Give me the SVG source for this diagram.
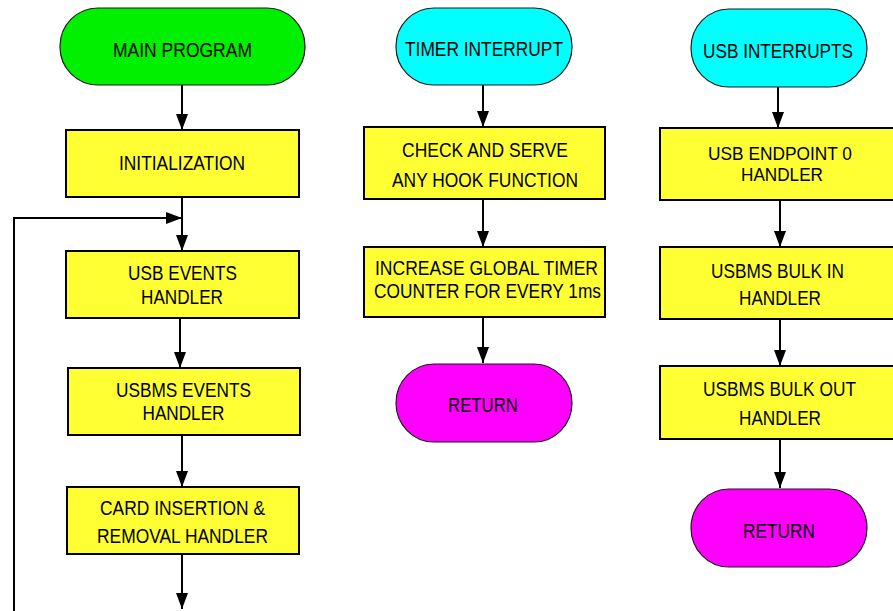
<svg xmlns="http://www.w3.org/2000/svg" width="893" height="611" viewBox="0 0 893 611">
  <style>
    .term { stroke: #1a1a1a; stroke-width: 1.2; }
    .main { fill: #00f000; }
    .irq { fill: #00ffff; }
    .ret { fill: #ff00ff; }
    .box { fill: #ffff33; stroke: #000; stroke-width: 2; }
    text { font-family: "Liberation Sans", Arial, sans-serif; font-size: 20px; fill: #000; text-anchor: middle; }
    .tight { font-size: 18.5px; }
    .conn { fill: none; stroke: #000; stroke-width: 2; marker-end: url(#arrow); }
  </style>
  <defs>
    <marker id="arrow" markerUnits="userSpaceOnUse" markerWidth="17" markerHeight="13" refX="16" refY="6" orient="auto">
      <path d="M0,0 L16,6 L0,12 z" fill="#000"/>
    </marker>
  </defs>
  <rect width="893" height="611" fill="#fff"/>

  <!-- main program column -->
  <g id="main-program">
    <rect class="term main" x="60" y="8" width="245" height="77" rx="38" ry="38"/>
    <text x="182.5" y="57" textLength="139" lengthAdjust="spacingAndGlyphs">MAIN PROGRAM</text>
  </g>
  <g id="initialization">
    <rect class="box" x="66" y="130" width="233" height="67"/>
    <text x="182" y="170" textLength="126" lengthAdjust="spacingAndGlyphs">INITIALIZATION</text>
  </g>
  <g id="usb-events">
    <rect class="box" x="66" y="251" width="233" height="67"/>
    <text x="182.5" y="280" textLength="109" lengthAdjust="spacingAndGlyphs">USB EVENTS</text>
    <text x="182" y="304" textLength="82" lengthAdjust="spacingAndGlyphs">HANDLER</text>
  </g>
  <g id="usbms-events">
    <rect class="box" x="68" y="368" width="232" height="67"/>
    <text x="183.5" y="397" textLength="135" lengthAdjust="spacingAndGlyphs">USBMS EVENTS</text>
    <text x="183.5" y="420" textLength="82" lengthAdjust="spacingAndGlyphs">HANDLER</text>
  </g>
  <g id="card-handler">
    <rect class="box" x="67" y="487" width="232" height="67"/>
    <text x="182.5" y="515" textLength="165" lengthAdjust="spacingAndGlyphs">CARD INSERTION &amp;</text>
    <text x="182.5" y="543" textLength="171" lengthAdjust="spacingAndGlyphs">REMOVAL HANDLER</text>
  </g>

  <!-- timer interrupt column -->
  <g id="timer-interrupt">
    <rect class="term irq" x="396" y="8" width="176" height="77" rx="38" ry="38"/>
    <text x="484" y="56" textLength="158" lengthAdjust="spacingAndGlyphs">TIMER INTERRUPT</text>
  </g>
  <g id="hook-function">
    <rect class="box" x="364" y="127" width="241" height="72"/>
    <text x="485" y="157" textLength="166" lengthAdjust="spacingAndGlyphs">CHECK AND SERVE</text>
    <text x="485" y="187" textLength="186" lengthAdjust="spacingAndGlyphs">ANY HOOK FUNCTION</text>
  </g>
  <g id="global-timer">
    <rect class="box" x="364" y="247" width="241" height="70"/>
    <text x="486.5" y="275" textLength="223" lengthAdjust="spacingAndGlyphs">INCREASE GLOBAL TIMER</text>
    <text x="487.5" y="298" textLength="227" lengthAdjust="spacingAndGlyphs">COUNTER FOR EVERY 1ms</text>
  </g>
  <g id="timer-return">
    <rect class="term ret" x="396" y="364" width="176" height="78" rx="38" ry="39"/>
    <text x="483" y="412" textLength="70" lengthAdjust="spacingAndGlyphs">RETURN</text>
  </g>

  <!-- usb interrupt column -->
  <g id="usb-interrupts">
    <rect class="term irq" x="691" y="9" width="176" height="78" rx="38" ry="39"/>
    <text x="778" y="58" textLength="150" lengthAdjust="spacingAndGlyphs">USB INTERRUPTS</text>
  </g>
  <g id="endpoint0">
    <rect class="box" x="660" y="128" width="240" height="72"/>
    <text class="tight" x="780" y="160" textLength="144" lengthAdjust="spacingAndGlyphs">USB ENDPOINT 0</text>
    <text class="tight" x="782" y="181" textLength="82" lengthAdjust="spacingAndGlyphs">HANDLER</text>
  </g>
  <g id="bulk-in">
    <rect class="box" x="660" y="247" width="240" height="72"/>
    <text x="777.5" y="278" textLength="133" lengthAdjust="spacingAndGlyphs">USBMS BULK IN</text>
    <text x="780" y="305" textLength="82" lengthAdjust="spacingAndGlyphs">HANDLER</text>
  </g>
  <g id="bulk-out">
    <rect class="box" x="660" y="366" width="240" height="73"/>
    <text x="779.5" y="396" textLength="153" lengthAdjust="spacingAndGlyphs">USBMS BULK OUT</text>
    <text x="780" y="425" textLength="82" lengthAdjust="spacingAndGlyphs">HANDLER</text>
  </g>
  <g id="usb-return">
    <rect class="term ret" x="691" y="489" width="176" height="78" rx="38" ry="39"/>
    <text x="779" y="538" textLength="72" lengthAdjust="spacingAndGlyphs">RETURN</text>
  </g>

  <g id="connectors">
    <path class="conn" d="M182,85 V130"/>
    <path class="conn" d="M182,197 V251"/>
    <path class="conn" d="M14,611 V218 H182"/>
    <path class="conn" d="M180,318 V368"/>
    <path class="conn" d="M182,435 V487"/>
    <path class="conn" d="M182,554 V609"/>

    <path class="conn" d="M483,85 V127"/>
    <path class="conn" d="M483,199 V247"/>
    <path class="conn" d="M483,317 V363"/>

    <path class="conn" d="M778,87 V128"/>
    <path class="conn" d="M780,200 V247"/>
    <path class="conn" d="M780,319 V366"/>
    <path class="conn" d="M780,439 V488"/>
  </g>
</svg>
